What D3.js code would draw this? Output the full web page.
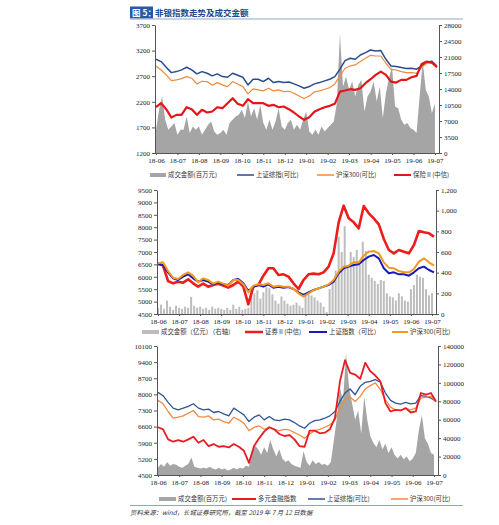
<!DOCTYPE html>
<html>
<head>
<meta charset="utf-8">
<script src="https://cdn.jsdelivr.net/npm/d3@7"></script>
<style>
body { margin: 0; background: #fff; }
svg { display: block; }
</style>
</head>
<body>
<svg id="chart" width="499" height="525"></svg>
<script>
// month labels sit every 21 trading days on a trading-day axis (0..275)
const monthLabels = ["18-06", "18-07", "18-08", "18-09", "18-10", "18-11", "18-12",
    "19-01", "19-02", "19-03", "19-04", "19-05", "19-06", "19-07"];
const labelIdx = d3.range(0, 274, 21);
const lineIdx = d3.range(0, 276, 5);   // index lines, every 5th trading day
const volIdx = d3.range(0, 274, 3);    // turnover, every 3rd trading day

// panel 1: 非银
const p1Volume = [5090, 9450, 12360, 7270, 5090, 5820, 6540, 4000, 5090, 5090,
    8000, 4360, 5820, 5090, 5820, 4000, 5090, 6180, 6900, 4730,
    4000, 4360, 5090, 4000, 6540, 7270, 8000, 8360, 9450, 7630,
    11270, 8000, 9810, 7270, 10540, 6540, 5090, 7270, 5090, 6900,
    9810, 5820, 5090, 6540, 7270, 5090, 6180, 5090, 7270, 9090,
    4730, 4000, 5090, 4000, 5820, 4730, 5450, 6180, 6900, 10900,
    26030, 14540, 16720, 13810, 15630, 12360, 14900, 15990, 9090, 12360,
    13450, 15630, 11270, 14540, 7630, 13090, 16360, 18900, 10180, 9810,
    7270, 6180, 6540, 5450, 5090, 4360, 12360, 19990, 13810, 12360,
    8720, 10900];
const p1Shanghai = [3030, 2985, 2874, 2770, 2790, 2823, 2875, 2823, 2745, 2790,
    2758, 2706, 2745, 2693, 2680, 2758, 2719, 2680, 2530, 2640,
    2640, 2595, 2660, 2575, 2595, 2575, 2588, 2550, 2510, 2465,
    2498, 2550, 2575, 2608, 2640, 2693, 2836, 3005, 3050, 3030,
    3115, 3160, 3212, 3193, 3200, 3030, 2900, 2888, 2868, 2850,
    2855, 2836, 2900, 2972, 2992, 2900];
const p1Csi300 = [2900, 2822, 2725, 2614, 2627, 2653, 2692, 2660, 2549, 2601,
    2595, 2523, 2575, 2530, 2497, 2595, 2549, 2497, 2354, 2452,
    2432, 2413, 2465, 2413, 2432, 2400, 2406, 2367, 2315, 2263,
    2315, 2393, 2413, 2445, 2478, 2549, 2705, 2855, 2900, 2920,
    2985, 3050, 3108, 3095, 3095, 2953, 2835, 2822, 2790, 2770,
    2770, 2758, 2875, 2953, 2966, 2888];
const p1Insurance = [2094, 2173, 2056, 1893, 1945, 1945, 2094, 2056, 1945, 2043,
    1991, 2010, 2094, 2075, 2173, 2270, 2160, 2121, 2250, 2173,
    2173, 2173, 2121, 2140, 2094, 2108, 2056, 1991, 1913, 1848,
    1900, 2004, 2056, 2094, 2121, 2160, 2400, 2420, 2446, 2433,
    2465, 2563, 2641, 2725, 2790, 2725, 2595, 2576, 2628, 2628,
    2680, 2706, 2940, 2985, 2966, 2875];

// panel 2: 证券
const p2Volume = [60, 90, 50, 130, 70, 40, 80, 60, 50, 70,
    60, 165, 80, 60, 70, 50, 60, 40, 70, 50,
    60, 50, 40, 60, 40, 90, 50, 70, 40, 50,
    60, 250, 200, 230, 150, 210, 260, 250, 190, 130,
    100, 170, 130, 100, 80, 90, 110, 80, 60, 180,
    220, 180, 160, 130, 110, 70, 20, 240, 310, 420,
    750, 600, 850, 470, 600, 550, 620, 480, 700, 610,
    380, 350, 320, 290, 330, 320, 200, 170, 160, 130,
    200, 170, 130, 120, 240, 280, 380, 360, 350, 240,
    180, 200];
const p2Securities = [6543, 6449, 5831, 5737, 5804, 5764, 5898, 5737, 5602, 5723,
    5602, 5670, 5723, 5643, 5562, 5670, 5804, 5602, 4890, 5602,
    5670, 6046, 6342, 6342, 6073, 6100, 6006, 5737, 5508, 5871,
    6100, 6127, 6100, 6180, 6409, 6946, 8196, 8868, 8358, 8196,
    7954, 8855, 8559, 8358, 8116, 7524, 7081, 6946, 7081, 7014,
    6946, 7282, 7847, 7793, 7753, 7618];
const p2Shanghai = [6503, 6476, 6180, 5938, 5871, 6006, 6100, 5938, 5804, 5871,
    5804, 5696, 5777, 5696, 5670, 5871, 5911, 5737, 5428, 5602,
    5670, 5602, 5696, 5562, 5602, 5562, 5589, 5508, 5374, 5266,
    5374, 5468, 5535, 5602, 5670, 5804, 6140, 6342, 6409, 6476,
    6503, 6678, 6812, 6879, 6745, 6342, 6140, 6180, 6100, 6100,
    6046, 6180, 6342, 6409, 6274, 6180];
const p2Csi300 = [6543, 6584, 6234, 5965, 5911, 6073, 6180, 6046, 5777, 5938,
    5871, 5723, 5804, 5723, 5643, 5871, 5871, 5696, 5374, 5643,
    5696, 5670, 5737, 5602, 5643, 5602, 5602, 5508, 5334, 5199,
    5334, 5468, 5535, 5602, 5696, 5871, 6207, 6409, 6449, 6584,
    6584, 6852, 7014, 7040, 6946, 6584, 6369, 6342, 6234, 6180,
    6180, 6315, 6610, 6745, 6584, 6449];

// panel 3: 多元金融
const p3Volume = [8000, 12000, 9000, 14000, 10000, 12000, 11000, 9000, 8000, 10000,
    12000, 19000, 9000, 8000, 7000, 8000, 7000, 9000, 7000, 6000,
    8000, 6000, 7000, 5000, 6000, 8000, 6000, 8000, 7000, 10000,
    9000, 25000, 32000, 28000, 22000, 30000, 24000, 38000, 28000, 20000,
    28000, 18000, 14000, 16000, 12000, 10000, 9000, 8000, 26000, 14000,
    10000, 16000, 12000, 14000, 11000, 12000, 10000, 14000, 38000, 62000,
    95000, 80000, 132000, 95000, 78000, 60000, 70000, 45000, 85000, 60000,
    42000, 35000, 30000, 38000, 28000, 34000, 24000, 30000, 22000, 18000,
    22000, 17000, 20000, 15000, 18000, 24000, 48000, 65000, 40000, 34000,
    24000, 22000];
const p3Multi = [6572, 6484, 6047, 5945, 6018, 5945, 6047, 6163, 5901, 6018,
    5755, 5843, 5726, 5755, 5697, 5843, 5726, 5551, 5026, 5755,
    6091, 6382, 6572, 6484, 6280, 6193, 6236, 6047, 5755, 5726,
    6426, 6426, 6309, 6338, 6484, 6965, 8569, 9488, 8934, 8861,
    8671, 9371, 9007, 8817, 8569, 7621, 7257, 7330, 7301, 7403,
    7213, 7257, 8059, 7986, 8059, 7694];
const p3Shanghai = [8088, 7942, 7651, 7403, 7330, 7403, 7476, 7592, 7403, 7330,
    7359, 7213, 7257, 7155, 7067, 7403, 7257, 7111, 6820, 7009,
    7111, 6893, 7038, 6893, 6863, 6922, 6893, 6776, 6630, 6528,
    6747, 6863, 6893, 6965, 7067, 7257, 7694, 8059, 8234, 7986,
    8350, 8525, 8569, 8642, 8525, 8059, 7738, 7621, 7578, 7651,
    7592, 7621, 7942, 7913, 7840, 7694];
const p3Csi300 = [7738, 7592, 7257, 6965, 7009, 7067, 7184, 7301, 7038, 7009,
    7067, 6893, 6922, 6820, 6747, 7009, 6893, 6747, 6426, 6572,
    6630, 6484, 6572, 6484, 6426, 6484, 6455, 6338, 6236, 6091,
    6280, 6426, 6484, 6572, 6674, 6893, 7403, 7767, 7884, 7694,
    7913, 8234, 8380, 8496, 8205, 7767, 7446, 7330, 7301, 7403,
    7330, 7403, 7840, 7884, 7913, 7694];

const svg = d3.select("#chart");
const serif = "'Liberation Serif', 'Times New Roman', serif";
const cjk = "'Noto Sans CJK SC', sans-serif";

// title
svg.append("rect").attr("x", 130).attr("y", 6.5).attr("width", 23).attr("height", 12).attr("fill", "#2759a4");
svg.append("text").attr("x", 132).attr("y", 16).attr("fill", "#fff")
    .style("font-family", cjk).style("font-size", "8.5px").style("font-weight", "bold").text("图 5：");
svg.append("text").attr("x", 155).attr("y", 16).attr("fill", "#22468a")
    .style("font-family", cjk).style("font-size", "8.5px").style("font-weight", "bold").text("非银指数走势及成交金额");
svg.append("line").attr("x1", 130).attr("x2", 463).attr("y1", 19).attr("y2", 19)
    .attr("stroke", "#8fa6c6").attr("stroke-width", 1);

function drawPanel(p) {
    const x = d3.scaleLinear().domain([0, 275]).range([p.left + 1, p.right - 2]);
    const yL = d3.scaleLinear().domain(p.leftDomain).range([p.bottom, p.top]);
    const yR = d3.scaleLinear().domain(p.rightDomain).range([p.bottom, p.top]);
    const g = svg.append("g");

    if (p.volumeStyle === "area") {
        const area = d3.area()
            .x((d, i) => x(volIdx[i]))
            .y0(p.bottom)
            .y1(d => yR(d));
        g.append("path").datum(p.volume).attr("fill", "#a5a5a5").attr("d", area);
    } else {
        g.selectAll("rect.bar").data(p.volume).join("rect")
            .attr("class", "bar")
            .attr("x", (d, i) => x(volIdx[i]) - 1)
            .attr("width", 2)
            .attr("y", d => yR(d))
            .attr("height", d => p.bottom - yR(d))
            .attr("fill", "#bdbdbd");
    }

    const line = d3.line()
        .x((d, i) => x(lineIdx[i]))
        .y(d => yL(d));
    p.lines.forEach(s => {
        g.append("path").datum(s.values)
            .attr("fill", "none")
            .attr("stroke", s.color)
            .attr("stroke-width", s.width)
            .attr("stroke-linejoin", "round")
            .attr("d", line);
    });

    const axL = g.append("g").attr("transform", "translate(" + p.left + ",0)")
        .call(d3.axisLeft(yL).tickValues(p.leftTicks).tickSize(3).tickSizeOuter(0).tickPadding(2)
            .tickFormat(d3.format("d")));
    const axR = g.append("g").attr("transform", "translate(" + p.right + ",0)")
        .call(d3.axisRight(yR).tickValues(p.rightTicks).tickSize(3).tickSizeOuter(0).tickPadding(2)
            .tickFormat(p.rightFormat));
    const axB = g.append("g").attr("transform", "translate(0," + p.bottom + ")")
        .call(d3.axisBottom(x).tickValues(labelIdx).tickSize(2).tickSizeOuter(0).tickPadding(3)
            .tickFormat((d, i) => monthLabels[i]));
    axB.select(".domain").attr("d", "M" + p.left + ",0.5H" + p.right);

    [axL, axR, axB].forEach(a => {
        a.select(".domain").attr("stroke", "#555");
        a.selectAll(".tick line").attr("stroke", "#555");
        a.selectAll("text").attr("fill", "#222")
            .style("font-family", serif).style("font-size", "7px");
    });

    // legend
    p.legend.forEach(it => {
        if (it.kind === "box") {
            svg.append("rect").attr("x", it.x).attr("y", p.legendY - 2)
                .attr("width", it.w).attr("height", 4).attr("fill", it.color);
        } else {
            svg.append("line").attr("x1", it.x).attr("x2", it.x + it.w)
                .attr("y1", p.legendY).attr("y2", p.legendY)
                .attr("stroke", it.color).attr("stroke-width", it.sw);
        }
        svg.append("text").attr("x", it.x + it.w + 2).attr("y", p.legendY).attr("dy", "0.35em")
            .attr("fill", "#333").style("font-family", cjk).style("font-size", "6.4px")
            .text(it.label);
    });
}

drawPanel({
    left: 155, right: 439, top: 25, bottom: 153,
    leftDomain: [1200, 3700], leftTicks: d3.range(1200, 3701, 500),
    rightDomain: [0, 28000], rightTicks: d3.range(0, 28001, 3500), rightFormat: d3.format("d"),
    volumeStyle: "area", volume: p1Volume,
    lines: [
        {values: p1Shanghai, color: "#2b4c8c", width: 1.5},
        {values: p1Csi300, color: "#ef8a3c", width: 1.2},
        {values: p1Insurance, color: "#e4161b", width: 2.2}
    ],
    legendY: 175,
    legend: [
        {kind: "box", x: 150, w: 16, color: "#a5a5a5", label: "成交金额(百万元)"},
        {kind: "line", x: 237, w: 17, color: "#2b4c8c", sw: 1.5, label: "上证综指(可比)"},
        {kind: "line", x: 317, w: 17, color: "#ef8a3c", sw: 1.5, label: "沪深300(可比)"},
        {kind: "line", x: 394, w: 17, color: "#e4161b", sw: 2, label: "保险Ⅱ(中信)"}
    ]
});

drawPanel({
    left: 157, right: 436, top: 190, bottom: 314,
    leftDomain: [4500, 9500], leftTicks: d3.range(4500, 9501, 500),
    rightDomain: [0, 1200], rightTicks: d3.range(0, 1201, 200), rightFormat: d3.format(","),
    volumeStyle: "bar", volume: p2Volume,
    lines: [
        {values: p2Securities, color: "#ee1c1c", width: 2.6},
        {values: p2Shanghai, color: "#1a1ab8", width: 2},
        {values: p2Csi300, color: "#f39a1e", width: 2}
    ],
    legendY: 332,
    legend: [
        {kind: "box", x: 142, w: 17, color: "#bdbdbd", label: "成交金额（亿元）（右轴）"},
        {kind: "line", x: 245, w: 18, color: "#ee1c1c", sw: 2.5, label: "证券Ⅱ(中信)"},
        {kind: "line", x: 309, w: 18, color: "#1a1ab8", sw: 2, label: "上证指数（可比）"},
        {kind: "line", x: 392, w: 16, color: "#f39a1e", sw: 2, label: "沪深300(可比)"}
    ]
});

drawPanel({
    left: 157, right: 438, top: 346, bottom: 475,
    leftDomain: [4500, 10100], leftTicks: d3.range(4500, 10101, 700),
    rightDomain: [0, 140000], rightTicks: d3.range(0, 140001, 20000), rightFormat: d3.format("d"),
    volumeStyle: "area", volume: p3Volume,
    lines: [
        {values: p3Shanghai, color: "#2f5597", width: 1.3},
        {values: p3Csi300, color: "#f08c44", width: 1.3},
        {values: p3Multi, color: "#e81c24", width: 1.8}
    ],
    legendY: 499,
    legend: [
        {kind: "box", x: 159, w: 17, color: "#a5a5a5", label: "成交金额(百万元)"},
        {kind: "line", x: 232, w: 24, color: "#e81c24", sw: 2, label: "多元金融指数"},
        {kind: "line", x: 308, w: 17, color: "#2f5597", sw: 1.5, label: "上证综指(可比)"},
        {kind: "line", x: 391, w: 17, color: "#f08c44", sw: 1.5, label: "沪深300(可比)"}
    ]
});

// footer
svg.append("line").attr("x1", 130).attr("x2", 463).attr("y1", 505.5).attr("y2", 505.5)
    .attr("stroke", "#8fa6c6").attr("stroke-width", 1);
svg.append("text").attr("x", 130).attr("y", 512.5).attr("dy", "0.35em")
    .attr("fill", "#333").style("font-family", cjk).style("font-size", "6.4px").style("font-style", "italic")
    .text("资料来源：wind，长城证券研究所，截至 2019 年 7 月 12 日数据");
</script>
</body>
</html>
